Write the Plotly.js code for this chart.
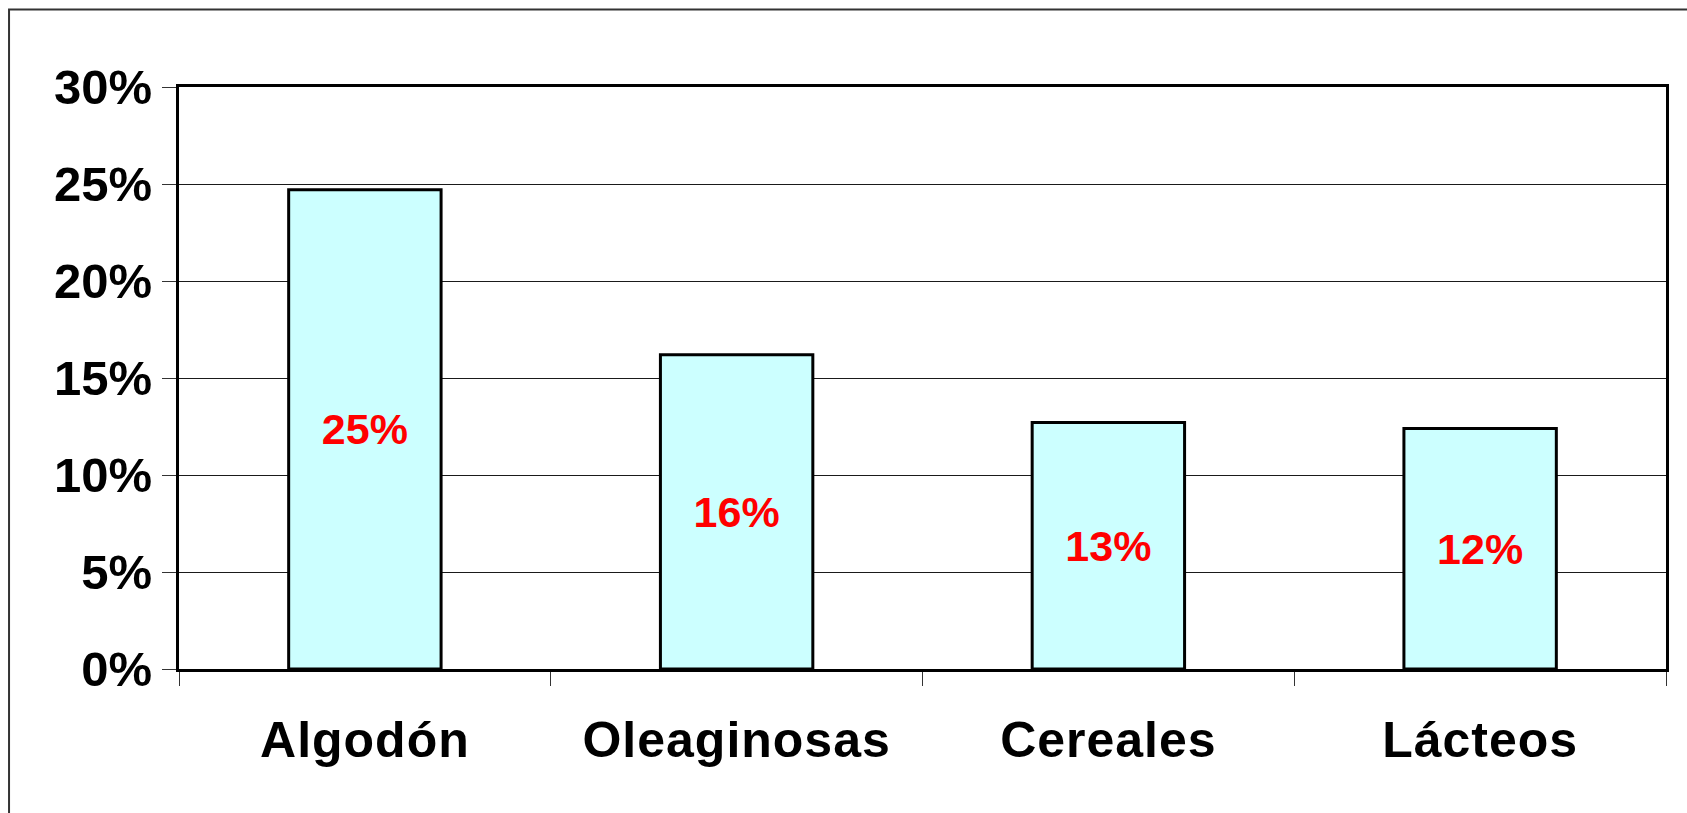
<!DOCTYPE html>
<html>
<head>
<meta charset="utf-8">
<script src="https://cdn.plot.ly/plotly-3.0.1.min.js"></script>
<style>
  html, body { margin: 0; padding: 0; background: #fff; }
  #chart { width: 1687px; height: 813px; }
  #chart .xtick text { letter-spacing: 1px; }
</style>
</head>
<body>
<div id="chart"></div>
<script>
const categories = ["Algodón", "Oleaginosas", "Cereales", "Lácteos"];
const values = [0.247, 0.162, 0.127, 0.124];
const yTickVals = [0, 0.05, 0.10, 0.15, 0.20, 0.25, 0.30];
const yTickText = ["0%", "5%", "10%", "15%", "20%", "25%", "30%"];

const FONT = "Liberation Sans, Arial, sans-serif";

const trace = {
  type: "bar",
  x: categories,
  y: values,
  marker: { color: "#CCFFFF", line: { color: "#000000", width: 3 } },
  texttemplate: "%{y:.0%}",
  textposition: "inside",
  insidetextanchor: "middle",
  textangle: 0,
  textfont: { family: FONT, size: 43, color: "#FF0000", weight: "bold" },
  hoverinfo: "skip"
};

const layout = {
  width: 1687,
  height: 813,
  margin: { l: 179, r: 20.5, t: 87, b: 144, pad: 0 },
  paper_bgcolor: "#ffffff",
  plot_bgcolor: "#ffffff",
  showlegend: false,
  bargap: 0.59,
  xaxis: {
    type: "category",
    showline: true,
    linecolor: "#000000",
    linewidth: 3,
    mirror: true,
    ticks: "outside",
    tickson: "boundaries",
    ticklen: 14,
    tickwidth: 1,
    tickcolor: "#333333",
    showgrid: false,
    tickfont: { family: FONT, size: 50, color: "#000000", weight: "bold" },
    ticklabelstandoff: 25
  },
  yaxis: {
    range: [0, 0.30],
    tickvals: yTickVals,
    ticktext: yTickText,
    showline: true,
    linecolor: "#000000",
    linewidth: 3,
    mirror: true,
    ticks: "outside",
    ticklen: 14,
    tickwidth: 1,
    tickcolor: "#333333",
    showgrid: true,
    gridcolor: "#1a1a1a",
    gridwidth: 1,
    zeroline: false,
    tickfont: { family: FONT, size: 49, color: "#000000", weight: "bold" },
    ticklabelstandoff: 0
  },
  shapes: [
    {
      type: "rect",
      xref: "paper", yref: "paper",
      x0: -0.1143, x1: 1.03,
      y0: -0.3, y1: 1.1332,
      line: { color: "#333333", width: 2 },
      fillcolor: "rgba(0,0,0,0)",
      layer: "below"
    }
  ]
};

Plotly.newPlot("chart", [trace], layout, { displayModeBar: false, staticPlot: true });
</script>
</body>
</html>
